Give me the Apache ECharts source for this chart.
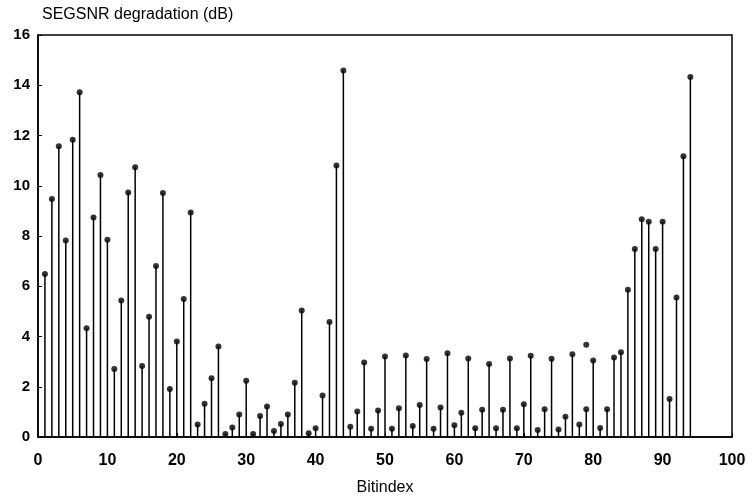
<!DOCTYPE html>
<html>
<head>
<meta charset="utf-8">
<script src="https://cdn.jsdelivr.net/npm/echarts@6/dist/echarts.min.js"></script>
<style>html,body{margin:0;padding:0;background:#fff}#c{width:752px;height:499px}</style>
</head>
<body>
<div id="c"></div>
<script>
var bitIndex = [1,2,3,4,5,6,7,8,9,10,11,12,13,14,15,16,17,18,19,20,21,22,23,24,25,26,27,28,29,30,31,32,33,34,35,36,37,38,39,40,41,42,43,44,45,46,47,48,49,50,51,52,53,54,55,56,57,58,59,60,61,62,63,64,65,66,67,68,69,70,71,72,73,74,75,76,77,78,79,80,81,82,83,84,85,86,87,88,89,90,91,92,93,94];
var degradation = [6.49,9.47,11.57,7.82,11.83,13.72,4.33,8.74,10.43,7.85,2.71,5.43,9.73,10.74,2.83,4.79,6.81,9.71,1.91,3.80,5.49,8.94,0.50,1.32,2.34,3.60,0.12,0.38,0.90,2.24,0.12,0.84,1.21,0.24,0.52,0.90,2.16,5.03,0.15,0.35,1.65,4.58,10.81,14.59,0.41,1.01,2.97,0.33,1.05,3.20,0.33,1.14,3.24,0.44,1.27,3.10,0.33,1.17,3.33,0.47,0.97,3.12,0.35,1.08,2.91,0.35,1.08,3.12,0.35,1.30,3.23,0.28,1.10,3.11,0.30,0.81,3.29,0.50,1.10,3.04,0.36,1.10,3.16,3.37,5.86,7.48,8.67,8.57,7.48,8.57,1.51,5.55,11.17,14.33];
var strayIndex = [79];
var strayValue = [3.67];
var xTicks = [0,10,20,30,40,50,60,70,80,90,100];
var yTicks = [0,2,4,6,8,10,12,14,16];

var pts = bitIndex.map(function(b,i){return [b, degradation[i]];});
var stray = strayIndex.map(function(b,i){return [b, strayValue[i]];});

var chart = echarts.init(document.getElementById('c'));
var fontFam = '"Liberation Sans", Arial, Helvetica, sans-serif';
chart.setOption({
  animation:false,
  backgroundColor:'#fff',
  title:{text:'SEGSNR degradation (dB)', left:37, top:2,
    textStyle:{fontFamily:fontFam, fontSize:16, fontWeight:'normal', color:'#000'}},
  grid:{left:38, right:20, top:35, bottom:62, containLabel:false, outerBoundsMode:'none',
    show:true, borderColor:'#000', borderWidth:1.5, backgroundColor:'transparent'},
  xAxis:{type:'value', min:xTicks[0], max:xTicks[xTicks.length-1], interval:10,
    name:'Bitindex', nameLocation:'middle', nameGap:43,
    nameTextStyle:{fontFamily:fontFam, fontSize:16, color:'#000'},
    axisLine:{lineStyle:{color:'#000', width:1.5}},
    axisTick:{inside:true, length:4, lineStyle:{color:'#000'}},
    axisLabel:{fontFamily:fontFam, fontSize:16, fontWeight:'bold', color:'#000', margin:16},
    splitLine:{show:false}},
  yAxis:{type:'value', min:yTicks[0], max:yTicks[yTicks.length-1], interval:2,
    axisLine:{show:true, lineStyle:{color:'#000', width:1.5}},
    axisTick:{show:true, inside:true, length:4, lineStyle:{color:'#000'}},
    axisLabel:{fontFamily:fontFam, fontSize:15, fontWeight:'bold', color:'#000', margin:8},
    splitLine:{show:false}},
  series:[
    {type:'custom', data:pts, renderItem:function(params, api){
      var x = api.value(0), v = api.value(1);
      var p0 = api.coord([x,0]), p1 = api.coord([x,v]);
      return {type:'line', shape:{x1:p0[0],y1:p0[1],x2:p1[0],y2:p1[1]},
        style:{stroke:'#000', lineWidth:1.5}};
    }, silent:true, z:2},
    {type:'scatter', data:pts, symbol:'circle', symbolSize:6, itemStyle:{color:'#000'}, z:3, silent:true},
    {type:'scatter', data:stray, symbol:'circle', symbolSize:6, itemStyle:{color:'#000'}, z:3, silent:true}
  ]
});
</script>
</body>
</html>
